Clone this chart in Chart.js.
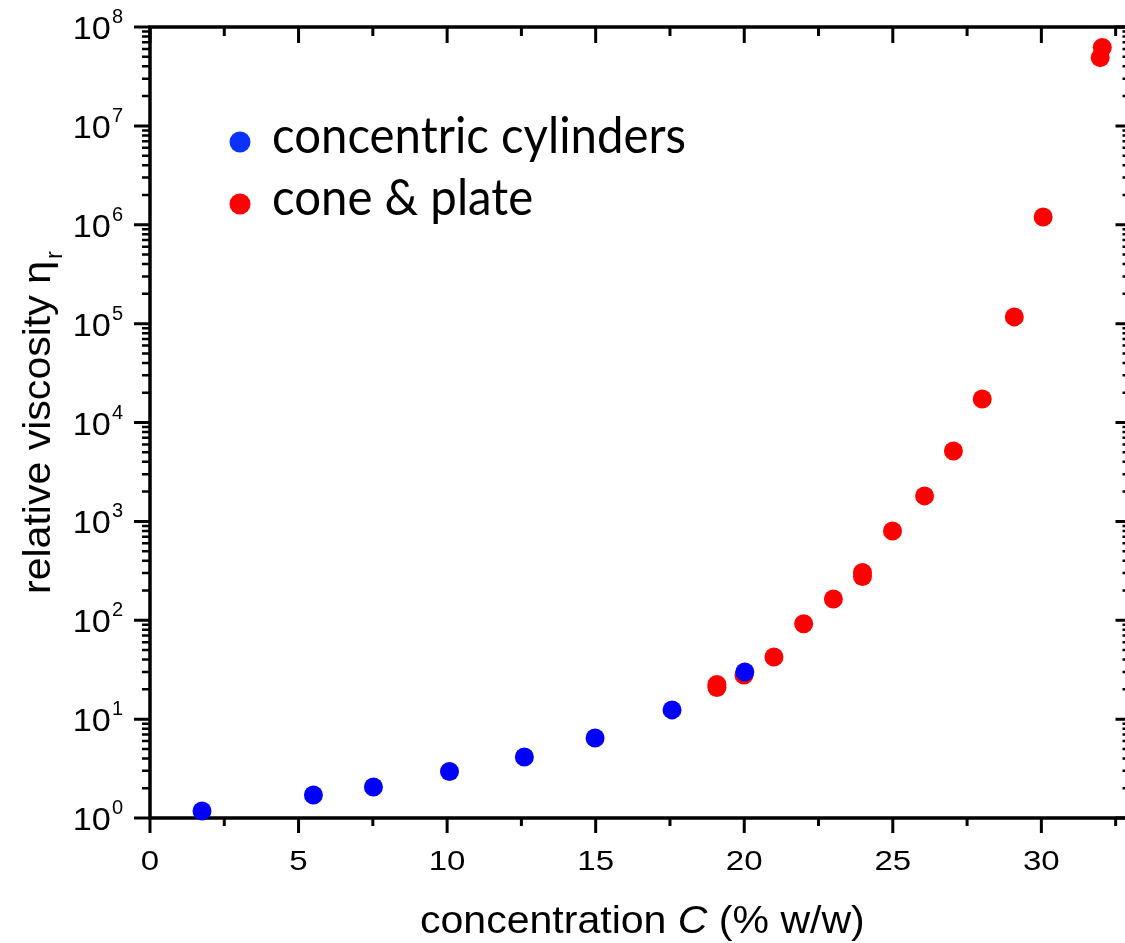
<!DOCTYPE html>
<html>
<head>
<meta charset="utf-8">
<script src="https://cdn.jsdelivr.net/npm/chart.js@4.4.1/dist/chart.umd.min.js"></script>
<style>
  html, body { margin: 0; padding: 0; background: #fff; overflow: hidden; width: 1125px; height: 943px; }
  #wrap { width: 1125px; height: 943px; overflow: hidden; position: relative; }
  canvas { display: block; }
</style>
</head>
<body>
<div id="wrap"><canvas id="c" width="1140" height="943"></canvas></div>
<script>
// ---- data ----
const cylLabel = 'concentric cylinders';
const coneLabel = 'cone & plate';
const cylC   = [1.75, 5.50, 7.52, 10.08, 12.60, 14.98, 17.57, 20.02];
const cylEta = [1.18, 1.71, 2.06, 2.95, 4.14, 6.45, 12.4, 30];
const coneC   = [19.08, 19.08, 19.99, 21.00, 22.00, 23.00, 23.98, 23.98, 24.99, 26.07, 27.04, 28.01, 29.09, 30.06, 32.05, 31.98];
const coneEta = [22.4, 20.9, 28, 42.5, 92, 164, 304, 277, 800, 1810, 5150, 17300, 117000, 1.2e6, 6.2e7, 4.9e7];

const xMajorTicks = [0, 5, 10, 15, 20, 25, 30];
const xTickLabels = ['0', '5', '10', '15', '20', '25', '30'];
const xMinorTicks = [2.5, 7.5, 12.5, 17.5, 22.5, 27.5, 32.5];
const yMajorTicks = [1, 1e1, 1e2, 1e3, 1e4, 1e5, 1e6, 1e7, 1e8];
const yTickBase = '10';
const yTickExponents = ['0', '1', '2', '3', '4', '5', '6', '7', '8'];
const yMinorFactors = [2, 3, 4, 5, 6, 7, 8, 9];

const xTitleParts = ['concentration ', 'C', ' (% w/w)'];
const yTitleMain = 'relative viscosity \u03B7';
const yTitleSub = 'r';

// ---- helpers ----
function txt(ctx, s, x, y, font, align, sx) {
  ctx.save();
  ctx.font = font;
  ctx.translate(x, y);
  ctx.scale(sx, 1);
  ctx.textAlign = align;
  ctx.textBaseline = 'alphabetic';
  ctx.fillStyle = '#000';
  ctx.fillText(s, 0, 0);
  ctx.restore();
}

const axesPlugin = {
  id: 'originAxes',
  beforeDatasetsDraw(chart) {
    const ctx = chart.ctx;
    const xs = chart.scales.x, ys = chart.scales.y;
    const L = xs.left, R = xs.right, T = ys.top, B = ys.bottom;
    ctx.save();
    ctx.strokeStyle = '#000';
    ctx.lineCap = 'butt';
    ctx.lineWidth = 3;
    ctx.beginPath();
    xMajorTicks.forEach(v => {
      const px = xs.getPixelForValue(v);
      ctx.moveTo(px, B); ctx.lineTo(px, B + 15);
      ctx.moveTo(px, T); ctx.lineTo(px, T + 16);
    });
    xMinorTicks.forEach(v => {
      const px = xs.getPixelForValue(v);
      ctx.moveTo(px, B); ctx.lineTo(px, B + 8);
      ctx.moveTo(px, T); ctx.lineTo(px, T + 9);
    });
    yMajorTicks.forEach(v => {
      const py = ys.getPixelForValue(v);
      ctx.moveTo(L, py); ctx.lineTo(L - 16, py);
      ctx.moveTo(R, py); ctx.lineTo(R - 15, py);
    });
    ctx.stroke();
    ctx.lineWidth = 2.5;
    ctx.beginPath();
    yMajorTicks.slice(0, -1).forEach(v => {
      yMinorFactors.forEach(f => {
        const py = ys.getPixelForValue(v * f);
        ctx.moveTo(L, py); ctx.lineTo(L - 8, py);
        ctx.moveTo(R, py); ctx.lineTo(R - 8, py);
      });
    });
    ctx.stroke();
    ctx.lineWidth = 3.5;
    ctx.beginPath();
    ctx.moveTo(L, T - 1.75); ctx.lineTo(L, B + 1.75);
    ctx.moveTo(L - 1.75, B); ctx.lineTo(R + 1.75, B);
    ctx.moveTo(L - 1.75, T); ctx.lineTo(R + 1.75, T);
    ctx.moveTo(R, T); ctx.lineTo(R, B);
    ctx.stroke();
    ctx.restore();
  },
  afterDraw(chart) {
    const ctx = chart.ctx;
    const xs = chart.scales.x, ys = chart.scales.y;
    xMajorTicks.forEach((v, i) => {
      txt(ctx, xTickLabels[i], xs.getPixelForValue(v), 870, '28px "Liberation Sans", Arial, sans-serif', 'center', 1.18);
    });
    yMajorTicks.forEach((v, i) => {
      const py = ys.getPixelForValue(v);
      ctx.font = '20px "Liberation Sans", Arial, sans-serif';
      const ew = ctx.measureText(yTickExponents[i]).width;
      txt(ctx, yTickExponents[i], 123, py - 4, '20px "Liberation Sans", Arial, sans-serif', 'right', 1.0);
      txt(ctx, yTickBase, 123 - ew - 1, py + 12, '32px "Liberation Sans", Arial, sans-serif', 'right', 1.07);
    });
    const fN = '38px "Liberation Sans", Arial, sans-serif';
    const fI = 'italic 38px "Liberation Sans", Arial, sans-serif';
    const sxT = 1.08;
    let x = 420;
    [[xTitleParts[0], fN], [xTitleParts[1], fI], [xTitleParts[2], fN]].forEach(([s, f]) => {
      txt(ctx, s, x, 933, f, 'left', sxT);
      ctx.font = f;
      x += ctx.measureText(s).width * sxT;
    });
    ctx.save();
    ctx.translate(50, 594);
    ctx.rotate(-Math.PI / 2);
    txt(ctx, yTitleMain, 0, 0, fN, 'left', 1.08);
    ctx.font = fN;
    const mw = ctx.measureText(yTitleMain).width * 1.08;
    txt(ctx, yTitleSub, mw + 2, 12, '24px "Liberation Sans", Arial, sans-serif', 'left', 1.0);
    ctx.restore();
    const legFont = '50px Lato, "Open Sans", sans-serif';
    ctx.font = legFont;
    const lsx = 414 / ctx.measureText(chart.data.datasets[0].label).width;
    const legendRows = [
      { ds: chart.data.datasets[0], cy: 142, base: 153, color: '#0a32ff' },
      { ds: chart.data.datasets[1], cy: 204, base: 215, color: chart.data.datasets[1].backgroundColor }
    ];
    legendRows.forEach(r => {
      ctx.save();
      ctx.fillStyle = r.color;
      ctx.beginPath();
      ctx.arc(240, r.cy, 10.5, 0, Math.PI * 2);
      ctx.fill();
      ctx.restore();
      txt(ctx, r.ds.label, 272, r.base, legFont, 'left', lsx);
    });
  }
};

new Chart(document.getElementById('c'), {
  type: 'scatter',
  data: {
    datasets: [
      {
        label: cylLabel,
        data: cylC.map((c, i) => ({ x: c, y: cylEta[i] })),
        backgroundColor: '#0000ff',
        borderWidth: 0,
        pointRadius: 9.5,
        pointHoverRadius: 9.5,
        clip: false
      },
      {
        label: coneLabel,
        data: coneC.map((c, i) => ({ x: c, y: coneEta[i] })),
        backgroundColor: '#ff0000',
        borderWidth: 0,
        pointRadius: 9.5,
        pointHoverRadius: 9.5,
        clip: false
      }
    ]
  },
  options: {
    responsive: false,
    animation: false,
    events: [],
    layout: { padding: { left: 150, right: 8, top: 27, bottom: 125 } },
    plugins: { legend: { display: false }, tooltip: { enabled: false } },
    scales: {
      x: { type: 'linear', min: 0, max: 33, display: false },
      y: { type: 'logarithmic', min: 1, max: 1e8, display: false }
    }
  },
  plugins: [axesPlugin]
});
</script>
</body>
</html>
